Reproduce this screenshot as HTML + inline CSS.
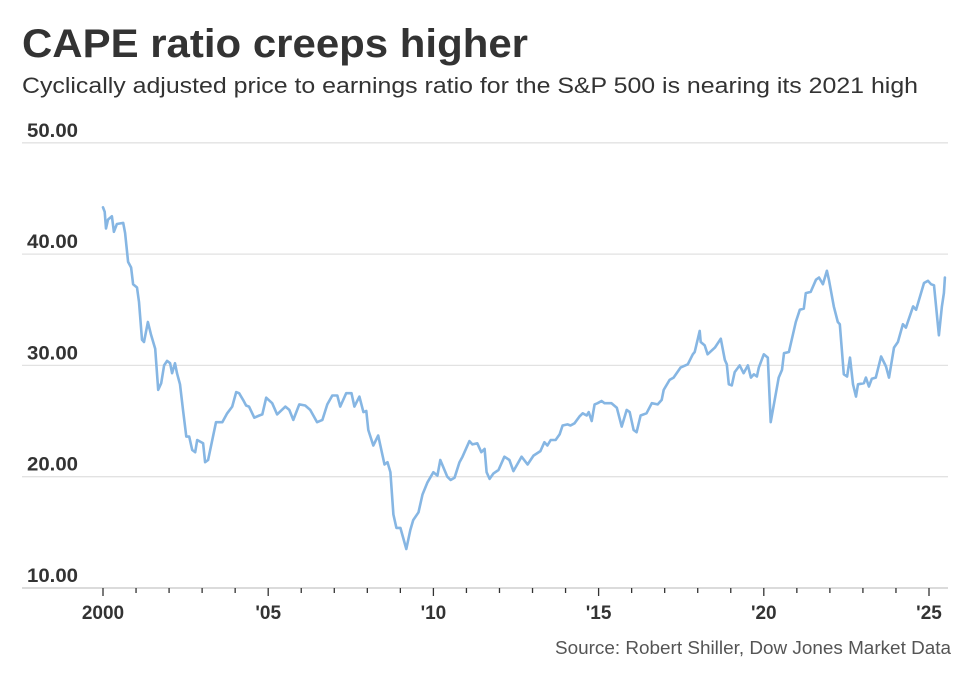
<!DOCTYPE html>
<html><head><meta charset="utf-8"><style>
body{margin:0;background:#fff;width:978px;height:679px;overflow:hidden;font-family:"Liberation Sans",sans-serif;color:#333}
</style></head><body>
<svg id="chart" width="978" height="679" viewBox="0 0 978 679" xmlns="http://www.w3.org/2000/svg">
<text x="22" y="57" font-size="40" font-weight="bold" fill="#333" textLength="506" lengthAdjust="spacingAndGlyphs">CAPE ratio creeps higher</text>
<text x="22" y="93" font-size="22" fill="#333" textLength="896" lengthAdjust="spacingAndGlyphs">Cyclically adjusted price to earnings ratio for the S&amp;P 500 is nearing its 2021 high</text>
<g id="grid"></g><g id="xaxis"></g><g id="series"></g>
<text x="951" y="654" text-anchor="end" font-size="18" fill="#555" textLength="396" lengthAdjust="spacingAndGlyphs">Source: Robert Shiller, Dow Jones Market Data</text>
</svg>
<script>
const years=[2000.0,2000.05,2000.09,2000.15,2000.27,2000.33,2000.42,2000.61,2000.67,2000.76,2000.85,2000.91,2001.03,2001.09,2001.18,2001.24,2001.36,2001.45,2001.58,2001.67,2001.76,2001.85,2001.94,2002.03,2002.09,2002.18,2002.24,2002.33,2002.42,2002.52,2002.61,2002.70,2002.79,2002.85,2003.03,2003.09,2003.18,2003.42,2003.61,2003.76,2003.91,2004.03,2004.12,2004.24,2004.33,2004.42,2004.58,2004.73,2004.82,2004.94,2005.12,2005.27,2005.52,2005.64,2005.76,2005.94,2006.12,2006.27,2006.48,2006.64,2006.79,2006.94,2007.09,2007.18,2007.36,2007.52,2007.61,2007.76,2007.88,2007.97,2008.03,2008.18,2008.33,2008.52,2008.61,2008.70,2008.79,2008.88,2009.00,2009.18,2009.30,2009.39,2009.55,2009.67,2009.82,2010.00,2010.12,2010.21,2010.42,2010.52,2010.64,2010.79,2010.88,2011.09,2011.18,2011.33,2011.45,2011.55,2011.61,2011.70,2011.82,2011.97,2012.15,2012.30,2012.42,2012.67,2012.85,2013.03,2013.24,2013.36,2013.45,2013.55,2013.70,2013.82,2013.91,2014.06,2014.15,2014.27,2014.42,2014.52,2014.64,2014.70,2014.79,2014.88,2014.97,2015.09,2015.18,2015.39,2015.55,2015.70,2015.85,2015.94,2016.06,2016.15,2016.27,2016.45,2016.61,2016.79,2016.91,2016.97,2017.15,2017.27,2017.48,2017.70,2017.85,2017.91,2018.06,2018.09,2018.21,2018.30,2018.52,2018.70,2018.82,2018.88,2018.94,2019.03,2019.12,2019.27,2019.39,2019.52,2019.61,2019.70,2019.79,2019.85,2020.00,2020.12,2020.21,2020.45,2020.55,2020.61,2020.76,2020.97,2021.09,2021.21,2021.27,2021.42,2021.58,2021.67,2021.79,2021.91,2021.97,2022.12,2022.24,2022.30,2022.42,2022.52,2022.61,2022.70,2022.79,2022.85,2023.03,2023.09,2023.18,2023.27,2023.39,2023.55,2023.70,2023.79,2023.94,2024.06,2024.21,2024.30,2024.52,2024.61,2024.85,2024.97,2025.06,2025.15,2025.30,2025.39,2025.45,2025.48];
const cape=[44.2,43.8,42.3,43.1,43.4,42.0,42.7,42.8,41.9,39.3,38.8,37.3,37.0,35.7,32.3,32.1,33.9,32.8,31.5,27.8,28.4,30.0,30.4,30.2,29.3,30.2,29.3,28.3,26.0,23.6,23.6,22.4,22.2,23.3,23.0,21.3,21.5,24.9,24.9,25.7,26.3,27.6,27.5,26.9,26.4,26.3,25.3,25.5,25.6,27.1,26.6,25.6,26.3,26.0,25.1,26.5,26.4,26.0,24.9,25.1,26.5,27.3,27.3,26.3,27.5,27.5,26.3,27.2,25.8,25.9,24.2,22.8,23.7,21.1,21.3,20.4,16.6,15.4,15.4,13.5,15.2,16.1,16.8,18.4,19.5,20.4,20.1,21.5,20.0,19.7,19.9,21.3,21.8,23.2,22.9,23.0,22.2,22.5,20.4,19.8,20.3,20.6,21.8,21.5,20.5,21.8,21.1,21.9,22.3,23.1,22.8,23.3,23.3,23.8,24.6,24.7,24.6,24.8,25.4,25.7,25.5,25.8,25.0,26.5,26.6,26.8,26.6,26.6,26.2,24.5,26.0,25.8,24.2,24.0,25.5,25.7,26.6,26.5,26.9,27.8,28.7,28.9,29.8,30.1,31.0,31.2,33.1,32.1,31.8,31.0,31.6,32.4,30.5,30.1,28.3,28.2,29.4,30.0,29.3,30.0,28.9,29.2,29.0,29.8,31.0,30.7,24.9,28.9,29.6,31.1,31.2,33.9,35.0,35.1,36.5,36.6,37.7,37.9,37.3,38.5,37.7,35.3,33.9,33.7,29.2,29.0,30.7,28.3,27.2,28.3,28.4,28.9,28.1,28.8,28.9,30.8,29.9,28.9,31.6,32.1,33.7,33.4,35.3,35.0,37.4,37.6,37.3,37.2,32.7,35.3,36.5,37.9];
const yTicks=[10,20,30,40,50];
const yTickLabels=["10.00","20.00","30.00","40.00","50.00"];
const xTickYears=[2000,2005,2010,2015,2020,2025];
const xTickLabels=["2000","'05","'10","'15","'20","'25"];

const NS="http://www.w3.org/2000/svg";
function xS(yr){return 103+(yr-2000)*33.04;}
function yS(v){return 588-(v-10)*11.13;}
function mk(tag,attrs,parent,txt){const e=document.createElementNS(NS,tag);for(const k in attrs)e.setAttribute(k,attrs[k]);if(txt!==undefined)e.textContent=txt;parent.appendChild(e);return e;}
const grid=document.getElementById('grid');
yTicks.forEach((v,i)=>{
  const y=yS(v);
  if(v>10){
    const l=mk('line',{x1:22,x2:948,y1:y,y2:y,stroke:'#e2e2e2','stroke-width':1.3},grid);
    
    
  }
  const t=mk('text',{x:27,y:y-6,'font-size':19,'font-weight':'bold',fill:'#333',textLength:51,lengthAdjust:'spacingAndGlyphs'},grid,yTickLabels[i]);
  
  
});
const xa=document.getElementById('xaxis');
const base=mk('line',{x1:22,x2:948,y1:588,y2:588,stroke:'#cfcfcf','stroke-width':1.5},xa);


for(let yr=2000;yr<=2025;yr++){
  const major=xTickYears.indexOf(yr)>=0;
  const tk=mk('line',{x1:xS(yr),x2:xS(yr),y1:588,y2:major?596:593,stroke:'#333','stroke-width':1.3},xa);
  
  
}
xTickYears.forEach((yr,i)=>{
  const t=mk('text',{x:xS(yr),y:619,'text-anchor':'middle','font-size':19,'font-weight':'bold',fill:'#333'},xa,xTickLabels[i]);
  
  
});
const d=years.map((yr,i)=>(i?'L':'M')+xS(yr).toFixed(1)+','+yS(cape[i]).toFixed(1)).join(' ');
const p=mk('path',{d:d,fill:'none',stroke:'#86b6e3','stroke-width':2.6,'stroke-linejoin':'round','stroke-linecap':'round'},document.getElementById('series'));


</script>
</body></html>
